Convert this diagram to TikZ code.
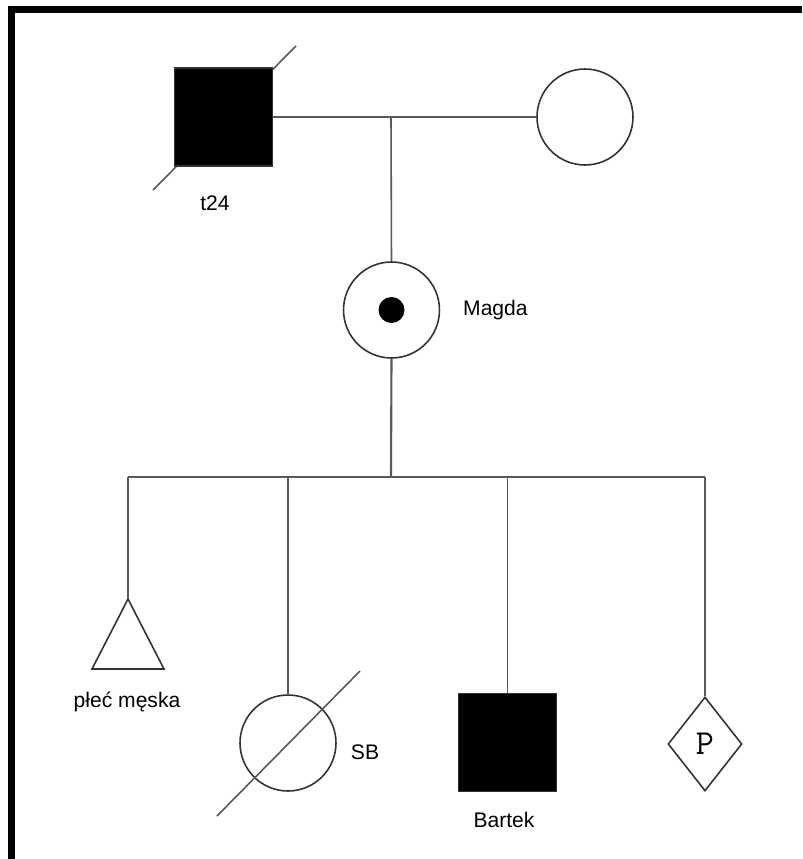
\documentclass[tikz,border=0pt]{standalone}
\usepackage{fontspec}
\setmainfont{Liberation Sans}
\usetikzlibrary{shapes.geometric}
\tikzset{
  osoba/.style={draw=black!80, line width=0.9pt, inner sep=0pt},
  kwadrat/.style={osoba, rectangle, fill=black, minimum size=1.96cm},
  kolo/.style={osoba, circle, minimum size=1.92cm},
  linia/.style={draw=black!65, line width=0.9pt},
  opis/.style={font=\fontsize{12}{14}\selectfont}
}
\begin{document}
\begin{tikzpicture}[x=0.02cm, y=-0.02cm]
    \useasboundingbox[fill=white](0,0) rectangle (802,859);
    \fill(8,6) rectangle (802,13);
    \fill(8,6) rectangle (15,859);
    % rodzice
    \draw[linia](153,190)--(296,46);
    \node[kwadrat](ojciec) at (223.5,117){};
    \node[kolo](matka) at (585,117){};
    \node[opis](t24) at (215,203){t24};
    \draw[linia](ojciec.east)--(matka.west);
    \coordinate(para) at (391,117);
    % Magda
    \node[kolo](magda) at (391.5,310){};
    \node[circle, fill=black, minimum size=0.52cm, inner sep=0pt](kropka) at (magda.center){};
    \node[opis, anchor=west](imie) at (457,310){Magda};
    \draw[linia](para)--(magda.north);
    \coordinate(rodzenstwo) at (391,477);
    \draw[linia, line width=1.2pt](magda.south)--(rodzenstwo);
    % dzieci
    \coordinate(trojkat) at (128,599);
    \draw[osoba](trojkat)--(164,669)--(92,669)--cycle;
    \node[opis](plec) at (127,702){płeć męska};
    \node[kolo](sb) at (288,743){};
    \draw[linia](217,816)--(360,671);
    \node[opis](sblab) at (365,752){SB};
    \node[kwadrat](bartek) at (507.5,742.5){};
    \node[opis](bartlab) at (504,820){Bartek};
    \node[osoba, diamond, minimum width=1.48cm, minimum height=1.88cm, font=\ttfamily\fontsize{20}{22}\selectfont](ciaza) at (705,744){P};
    \draw[linia](trojkat|-rodzenstwo)--(ciaza.north|-rodzenstwo);
    \draw[linia](trojkat|-rodzenstwo)--(trojkat);
    \draw[linia](sb.north|-rodzenstwo)--(sb.north);
    \draw[linia](bartek.north|-rodzenstwo)--(bartek.north);
    \draw[linia](ciaza.north|-rodzenstwo)--(ciaza.north);
\end{tikzpicture}
\end{document}
